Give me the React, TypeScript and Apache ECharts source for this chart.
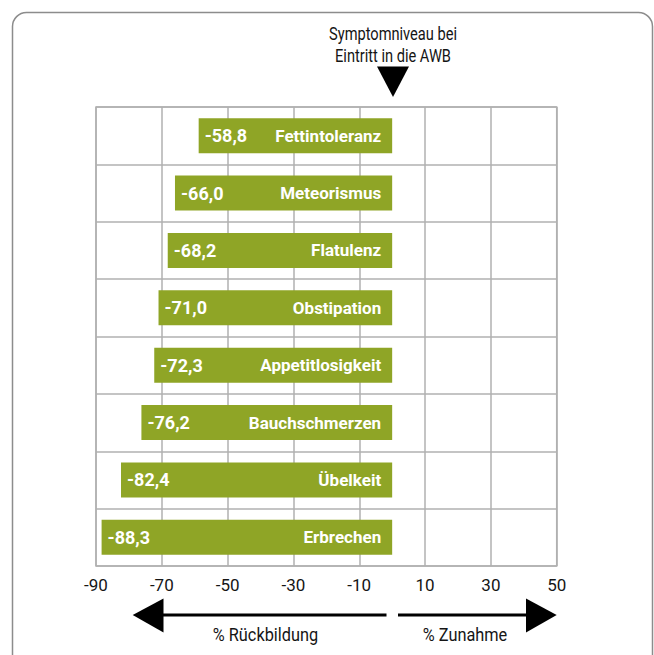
import React, { useEffect, useRef } from "react";
import * as echarts from "echarts";

const categories = [
  "Fettintoleranz",
  "Meteorismus",
  "Flatulenz",
  "Obstipation",
  "Appetitlosigkeit",
  "Bauchschmerzen",
  "Übelkeit",
  "Erbrechen",
];
const values = [-58.8, -66.0, -68.2, -71.0, -72.3, -76.2, -82.4, -88.3];
const axisMin = -90;
const axisMax = 50;
const axisInterval = 20;
const titleLines = ["Symptomniveau bei", "Eintritt in die AWB"];
const leftArrowLabel = "% Rückbildung";
const rightArrowLabel = "% Zunahme";

const REG = "Roboto, 'Liberation Sans', sans-serif";
const BOLD = "Roboto, 'Liberation Sans', sans-serif";
const GRID_COLOR = "#b0b0b0";
const BAR_COLOR = "#8fa526";

const narrowText = (text: string, x: number, y: number, scaleX: number) => ({
  type: "text",
  x,
  y,
  scaleX,
  style: {
    text,
    x: 0,
    y: 0,
    textAlign: "center",
    textVerticalAlign: "middle",
    fontFamily: REG,
    fontSize: 19,
    fill: "#151515",
  },
});

export default function App() {
  const ref = useRef<HTMLDivElement>(null);

  useEffect(() => {
    document.body.style.margin = "0";
    if (!ref.current) return;
    const chart = echarts.init(ref.current, undefined, { renderer: "svg" });
    const fmt = (v: number) => v.toFixed(1).replace(".", ",");

    chart.setOption({
      animation: false,
      backgroundColor: "#ffffff",
      grid: {
        left: 96,
        right: 97.3,
        top: 107,
        bottom: 89,
        show: true,
        borderColor: GRID_COLOR,
        borderWidth: 1.5,
      },
      xAxis: {
        type: "value",
        min: axisMin,
        max: axisMax,
        interval: axisInterval,
        axisLine: { show: false },
        axisTick: { show: false },
        splitLine: { show: true, lineStyle: { color: GRID_COLOR, width: 1.5 } },
        axisLabel: {
          fontFamily: REG,
          fontSize: 17,
          color: "#151515",
          margin: 10,
        },
      },
      yAxis: {
        type: "category",
        inverse: true,
        data: categories,
        axisLabel: { show: false },
        axisTick: { show: false },
        axisLine: { show: false },
        splitLine: { show: true, lineStyle: { color: GRID_COLOR, width: 1.5 } },
      },
      series: [
        {
          type: "bar",
          data: values,
          barWidth: 35,
          itemStyle: { color: BAR_COLOR },
          label: {
            show: true,
            position: "insideRight",
            distance: 11,
            formatter: (p: any) => p.name,
            color: "#ffffff",
            fontFamily: BOLD,
            fontWeight: "bold",
            fontSize: 17,
          },
        },
        {
          type: "bar",
          data: values,
          barWidth: 35,
          barGap: "-100%",
          itemStyle: { color: "rgba(0,0,0,0)" },
          z: 3,
          label: {
            show: true,
            position: "insideLeft",
            distance: 6,
            formatter: (p: any) => fmt(p.value),
            color: "#ffffff",
            fontFamily: BOLD,
            fontWeight: "bold",
            fontSize: 18,
          },
        },
      ],
      graphic: [
        {
          type: "rect",
          shape: { x: 12.5, y: 12.5, width: 640, height: 665, r: 14 },
          style: { fill: "none", stroke: "#8c8c8c", lineWidth: 1.5 },
          silent: true,
        },
        narrowText(titleLines[0], 393, 33, 0.77),
        narrowText(titleLines[1], 393, 55, 0.77),
        {
          type: "polygon",
          shape: { points: [[377, 66.5], [409, 66.5], [393, 97]] },
          style: { fill: "#000000" },
        },
        {
          type: "line",
          shape: { x1: 160, y1: 615, x2: 386.5, y2: 615 },
          style: { stroke: "#000000", lineWidth: 3 },
        },
        {
          type: "polygon",
          shape: { points: [[132.7, 615], [163.5, 598.5], [163.5, 632.5]] },
          style: { fill: "#000000" },
        },
        {
          type: "line",
          shape: { x1: 398, y1: 615, x2: 530, y2: 615 },
          style: { stroke: "#000000", lineWidth: 3 },
        },
        {
          type: "polygon",
          shape: { points: [[556.7, 615], [526, 598.5], [526, 632.5]] },
          style: { fill: "#000000" },
        },
        narrowText(leftArrowLabel, 265.5, 635, 0.86),
        narrowText(rightArrowLabel, 465, 635, 0.86),
      ],
    });

    return () => chart.dispose();
  }, []);

  return <div ref={ref} style={{ width: 654, height: 655 }} />;
}
